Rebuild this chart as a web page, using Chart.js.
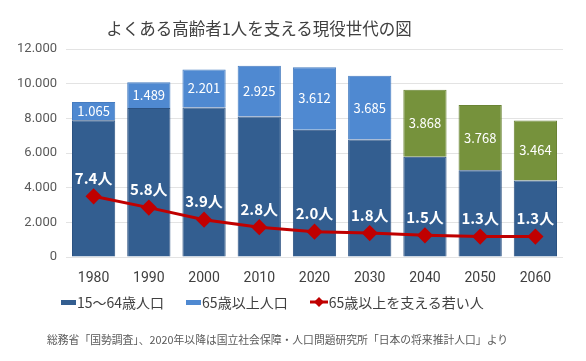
<!DOCTYPE html>
<html>
<head>
<meta charset="utf-8">
<script src="https://cdn.jsdelivr.net/npm/chart.js@4"></script>
<style>
  body { margin: 0; background: #fff; font-family: "Noto Sans CJK JP", "Noto Sans", sans-serif; }
  #wrap { position: relative; width: 586px; height: 361px; }
  #title { position: absolute; left: 0; width: 518px; top: 16px; text-align: center; font-size: 16.5px; color: #404040; }
  #legend { position: absolute; left: 61px; top: 292px; font-size: 14px; color: #404040; display: flex; white-space: nowrap; }
  #legend span.item { display: flex; align-items: center; margin-right: 22px; }
  #legend .box { display: inline-block; width: 15px; height: 5px; margin-right: 1px; }
  #note { position: absolute; left: 47px; top: 331px; font-size: 10.8px; color: #595959; white-space: nowrap; }
</style>
</head>
<body>
<div id="wrap">
  <canvas id="grafico" width="586" height="361"></canvas>
  <div id="title">よくある高齢者1人を支える現役世代の図</div>
  <div id="legend"></div>
  <div id="note">総務省「国勢調査」、2020年以降は国立社会保障・人口問題研究所「日本の将来推計人口」より</div>
</div>
<script>
// datos
const anios = ['1980', '1990', '2000', '2010', '2020', '2030', '2040', '2050', '2060'];
const poblacion1564 = [7883, 8590, 8622, 8103, 7341, 6773, 5787, 5001, 4418];
const poblacion65 = [1065, 1489, 2201, 2925, 3612, 3685, 3868, 3768, 3464];
const jovenesLinea = [3500, 2850, 2150, 1720, 1460, 1380, 1250, 1180, 1180];
const jovenesTexto = ['7.4人', '5.8人', '3.9人', '2.8人', '2.0人', '1.8人', '1.5人', '1.3人', '1.3人'];
const nombres = ['15～64歳人口', '65歳以上人口', '65歳以上を支える若い人'];

const azulOscuro = '#335e90';
const azulClaro = '#4f89d1';
const verde = '#76923c';
const rojo = '#c00000';

const coloresMayores = anios.map(a => Number(a) >= 2040 ? verde : azulClaro);
const bordesMayores = anios.map(a => Number(a) >= 2040 ? '#6a8434' : '#467cc0');

function fmt(n) {
    return String(n).replace(/\B(?=(\d{3})+(?!\d))/g, '.');
}

// etiquetas sobre las barras y la linea
const etiquetas = {
    id: 'etiquetas',
    afterDatasetsDraw(chart) {
        const ctx = chart.ctx;
        ctx.save();
        ctx.textAlign = 'center';
        ctx.textBaseline = 'middle';
        ctx.fillStyle = '#ffffff';
        ctx.font = '13px "Noto Sans CJK JP", sans-serif';
        chart.getDatasetMeta(1).data.forEach((bar, i) => {
            ctx.fillText(fmt(poblacion65[i]), bar.x, (bar.y + bar.base) / 2);
        });
        ctx.font = 'bold 15px "Noto Sans CJK JP", sans-serif';
        chart.getDatasetMeta(2).data.forEach((pt, i) => {
            ctx.fillText(jovenesTexto[i], pt.x, pt.y - 18);
        });
        ctx.restore();
    }
};

const ctx = document.getElementById('grafico').getContext('2d');
new Chart(ctx, {
    type: 'bar',
    data: {
        labels: anios,
        datasets: [
            {
                label: nombres[0],
                data: poblacion1564,
                backgroundColor: azulOscuro,
                borderColor: '#2c5282',
                borderWidth: 1,
                stack: 's',
                order: 2
            },
            {
                label: nombres[1],
                data: poblacion65,
                backgroundColor: coloresMayores,
                borderColor: bordesMayores,
                borderWidth: 1,
                stack: 's',
                order: 2
            },
            {
                type: 'line',
                label: nombres[2],
                data: jovenesLinea,
                borderColor: rojo,
                backgroundColor: rojo,
                borderWidth: 3,
                pointStyle: 'rectRot',
                pointRadius: 6,
                fill: false,
                tension: 0,
                order: 1
            }
        ]
    },
    options: {
        responsive: false,
        animation: false,
        layout: { padding: { top: 49, right: 23, left: 0, bottom: 0 } },
        datasets: { bar: { barPercentage: 0.87, categoryPercentage: 0.9 } },
        plugins: {
            legend: { display: false },
            title: { display: false },
            tooltip: { enabled: false }
        },
        scales: {
            x: {
                stacked: true,
                grid: { display: false },
                border: { display: false },
                ticks: { color: '#404040', font: { size: 14, family: 'Roboto' }, padding: 5 },
                afterFit: s => { s.height = 104; }
            },
            y: {
                stacked: true,
                min: 0,
                max: 12000,
                grid: { color: '#e3e3e3', drawTicks: false },
                border: { display: false },
                ticks: {
                    stepSize: 2000,
                    color: '#595959',
                    font: { size: 13, family: 'Roboto' },
                    padding: 9,
                    callback: v => fmt(v)
                },
                afterFit: s => { s.width = 66; }
            }
        }
    },
    plugins: [etiquetas]
});

// leyenda
const leyenda = document.getElementById('legend');
leyenda.innerHTML =
    '<span class="item"><span class="box" style="background:' + azulOscuro + '"></span>' + nombres[0] + '</span>' +
    '<span class="item"><span class="box" style="background:' + azulClaro + '"></span>' + nombres[1] + '</span>' +
    '<span class="item"><svg width="18" height="10" style="margin-right:1px"><line x1="0" y1="5" x2="18" y2="5" stroke="' + rojo + '" stroke-width="3"/><polygon points="9,0 14,5 9,10 4,5" fill="' + rojo + '"/></svg>' + nombres[2] + '</span>';
</script>
</body>
</html>
